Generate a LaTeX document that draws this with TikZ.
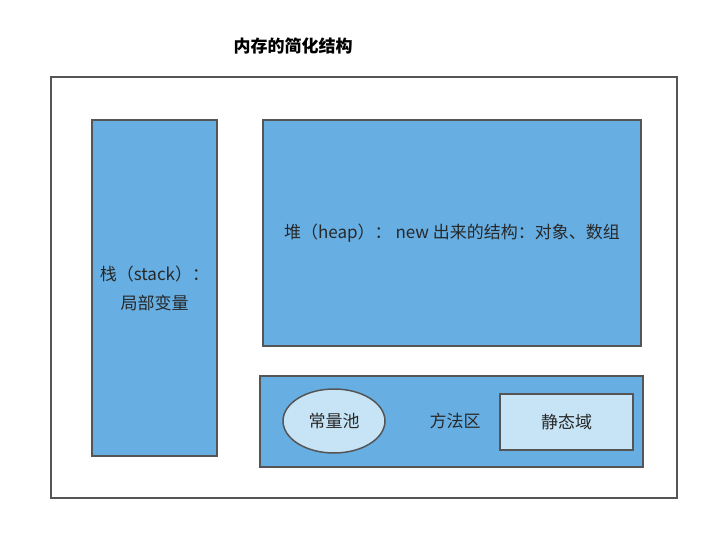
\documentclass[tikz,border=0pt]{standalone}
\usepackage{fontspec}
\usetikzlibrary{positioning}
\usetikzlibrary{shapes.geometric}
\newfontfamily\cjk{Noto Sans CJK SC}
\definecolor{MemBlue}{RGB}{103, 174, 227}
\definecolor{MemLight}{RGB}{198, 228, 246}
\definecolor{MemLine}{RGB}{85, 85, 85}
\definecolor{MemText}{RGB}{40, 40, 40}
\begin{document}
\begin{tikzpicture}[
  x=1pt, y=-1pt,
  font=\cjk\fontsize{17}{29}\selectfont, text=MemText,
  area/.style={draw=MemLine, fill=MemBlue, line width=1.5pt, inner sep=0pt, align=center},
  part/.style={draw=MemLine, fill=MemLight, line width=1.5pt, inner sep=0pt}
]
\useasboundingbox (0,0) rectangle (722,537);
\node[font=\cjk\bfseries\fontsize{17}{20}\selectfont, text=black] (title) at (293,46) {内存的简化结构};
\node[draw=MemLine, line width=1.5pt, fill=white, minimum width=626pt, minimum height=421pt] (mem) at (364,287.5) {};
\node[area, minimum width=125pt, minimum height=336pt] (stack) at (154.5,288) {栈（stack）：\\局部变量};
\node[area, minimum width=378pt, minimum height=226pt] (heap) at (452,233) {堆（heap）： new 出来的结构：对象、数组};
\node[area, minimum width=383pt, minimum height=91pt] (method) at (451.5,421.5) {};
\node (methodlab) at (455,421) {方法区};
\node[part, ellipse, minimum width=102pt, minimum height=64pt] (pool) at (334,421) {常量池};
\node[part, minimum width=133pt, minimum height=56pt] (static) at (566.5,422) {静态域};
\end{tikzpicture}
\end{document}
